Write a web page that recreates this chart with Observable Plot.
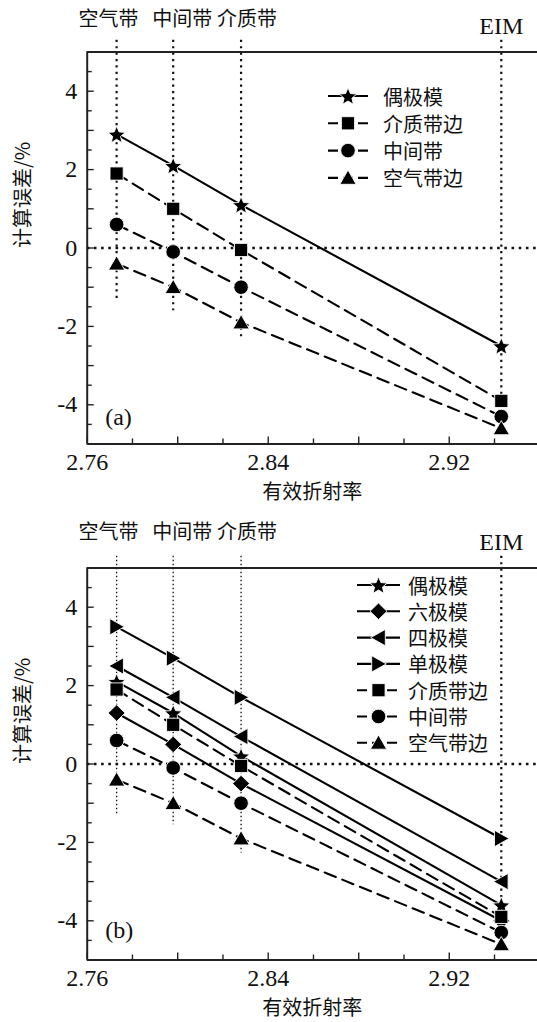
<!DOCTYPE html>
<html><head><meta charset="utf-8">
<script src="https://cdn.jsdelivr.net/npm/d3@7"></script>
<script src="https://cdn.jsdelivr.net/npm/@observablehq/plot@0.6"></script>
<style>
body{margin:0;background:#fff;}
#wrap{position:relative;width:537px;height:1022px;overflow:hidden;background:#fff;}
#wrap svg{display:block;}
.legend{position:absolute;left:0;top:0;overflow:visible;}
</style></head><body><div id="wrap"></div>
<script>
// ---------- data ----------
const bands = ["空气带", "中间带", "介质带", "EIM"];
const neff = [2.773, 2.798, 2.828, 2.943];

const dipoleA    = [2.9, 2.1, 1.1, -2.5];
const dielEdge   = [1.9, 1.0, -0.05, -3.9];
const midBand    = [0.6, -0.1, -1.0, -4.3];
const airEdge    = [-0.4, -1.0, -1.9, -4.6];

const dipoleB    = [2.1, 1.3, 0.2, -3.6];
const hexapole   = [1.3, 0.5, -0.5, -4.0];
const quadrupole = [2.5, 1.7, 0.7, -3.0];
const monopole   = [3.5, 2.7, 1.7, -1.9];

const guideTop = 5.3;
const guideBottomA = [-1.3, -1.6, -2.3, -3.85];
const guideBottomB = [-1.3, -1.55, -2.27, -3.6];

const xDomain = [2.76, 2.959];
const yDomain = [-5, 5];
const xTickLabels = [2.76, 2.84, 2.92];
const xMajorTicks = [2.76, 2.80, 2.84, 2.88, 2.92];
const xMinorTicks = [2.78, 2.82, 2.86, 2.90, 2.94];
const yTickLabels = [-4, -2, 0, 2, 4];
const yMajorTicks = [-4, -3, -2, -1, 0, 1, 2, 3, 4];
const yMinorTicks = [-4.5, -3.5, -2.5, -1.5, -0.5, 0.5, 1.5, 2.5, 3.5, 4.5];

const xLabel = "有效折射率";
const yLabel = "计算误差/%";

// ---------- symbols (styles) ----------
function poly(pts) {
  return {draw(c) { c.moveTo(pts[0][0], pts[0][1]); for (let i = 1; i < pts.length; i++) c.lineTo(pts[i][0], pts[i][1]); c.closePath(); }};
}
const starPts = d3.range(10).map(i => { const a = -Math.PI / 2 + i * Math.PI / 5, r = i % 2 ? 4.1 : 9.2; return [r * Math.cos(a), r * Math.sin(a) + 0.9]; });
const SYM = {
  star: poly(starPts),
  square: poly([[-6.6, -6.6], [6.6, -6.6], [6.6, 6.6], [-6.6, 6.6]]),
  circle: {draw(c) { c.moveTo(7.3, 0); c.arc(0, 0, 7.3, 0, 2 * Math.PI); }},
  triUp: poly([[0, -7.8], [8.2, 6.4], [-8.2, 6.4]]),
  triLeft: poly([[-7.8, 0], [6.8, -8.2], [6.8, 8.2]]),
  triRight: poly([[7.8, 0], [-6.8, -8.2], [-6.8, 8.2]]),
  diamond: poly([[0, -8.3], [8.5, 0], [0, 8.3], [-8.5, 0]])
};

const serif = "'Liberation Serif', 'Times New Roman', serif";
const cjk = "'Noto Sans CJK SC', sans-serif";

function panel(cfg) {
  const W = 537, ML = 86.7, MR = 0, PH = 392;
  const MB = cfg.height - cfg.marginTop - PH;
  const PW = W - ML - MR;
  const guides = bands.map((b, i) => ({band: b, x: neff[i], y1: guideTop, y2: cfg.guideBottom[i]}));
  const rowsOf = s => s.values.map((v, i) => ({name: s.name, x: neff[i], y: v}));
  const marks = [];
  marks.push(Plot.ruleY([0], {stroke: "#111", strokeWidth: 2.4, strokeDasharray: "2.6,4.6"}));
  marks.push(Plot.ruleX(guides.slice(0, 3), {x: "x", y1: "y1", y2: "y2", stroke: "#111",
    strokeWidth: cfg.thinGuides ? 1.3 : 2.2, strokeDasharray: cfg.thinGuides ? "1.4,2.6" : "2.2,4.2"}));
  marks.push(Plot.ruleX(guides.slice(3), {x: "x", y1: "y1", y2: "y2", stroke: "#111", strokeWidth: 2.2, strokeDasharray: "2.2,4.2"}));
  for (const s of cfg.series) {
    marks.push(Plot.line(rowsOf(s), {x: "x", y: "y", stroke: "#000", strokeWidth: 2.1, strokeDasharray: s.dashed ? "12,7" : null}));
  }
  for (const s of cfg.series) {
    marks.push(Plot.dot(rowsOf(s), {x: "x", y: "y", symbol: s.symbol, r: 6, fill: "#000", stroke: "#fff", strokeWidth: 0.9}));
  }
  // frame (top, bottom, left)
  marks.push(Plot.ruleY([yDomain[0], yDomain[1]], {stroke: "#222", strokeWidth: 2}));
  marks.push(Plot.ruleX([xDomain[0]], {stroke: "#222", strokeWidth: 2}));
  // inward ticks
  marks.push(Plot.tickX(xMajorTicks, {x: d => d, insetTop: PH - 7, stroke: "#222", strokeWidth: 1.4}));
  marks.push(Plot.tickX(xMinorTicks, {x: d => d, insetTop: PH - 5, stroke: "#222", strokeWidth: 1.4}));
  marks.push(Plot.tickY(yMajorTicks, {y: d => d, insetRight: PW - 7, stroke: "#222", strokeWidth: 1.4}));
  marks.push(Plot.tickY(yMinorTicks, {y: d => d, insetRight: PW - 5, stroke: "#222", strokeWidth: 1.4}));
  // tick labels (serif)
  marks.push(Plot.text(xTickLabels, {x: d => d, text: d => d.toFixed(2), frameAnchor: "bottom", lineAnchor: "middle", dy: 18, fontSize: 24, fontFamily: serif, fill: "#111"}));
  marks.push(Plot.text(yTickLabels, {y: d => d, text: d => String(d), frameAnchor: "left", lineAnchor: "middle", textAnchor: "end", dx: -10, fontSize: 24, fontFamily: serif, fill: "#111"}));
  // axis titles
  marks.push(Plot.text([xLabel], {text: d => d, frameAnchor: "bottom", lineAnchor: "middle", dy: 49, fontSize: 20, fontFamily: cjk, fill: "#111"}));
  marks.push(Plot.text([yLabel], {text: d => d, frameAnchor: "left", lineAnchor: "middle", rotate: -90, dx: -64, fontSize: 20, fontFamily: cjk, fill: "#111"}));
  // band labels on top
  const bandDx = [-8, 9, 6, 0];
  bands.forEach((b, i) => {
    const isEIM = i === 3;
    marks.push(Plot.text([guides[i]], {x: "x", text: "band", frameAnchor: "top", lineAnchor: "middle", dx: bandDx[i],
      dy: isEIM ? cfg.eimDy : cfg.bandDy, fontSize: isEIM ? 24 : 20, fontFamily: isEIM ? serif : cjk, fill: "#111"}));
  });
  marks.push(Plot.text([cfg.tag], {text: d => d, frameAnchor: "bottom-left", lineAnchor: "middle", dx: 18, dy: cfg.tagDy, textAnchor: "start", fontSize: 24, fontFamily: serif, fill: "#111"}));

  return Plot.plot({
    width: W, height: cfg.height,
    marginLeft: ML, marginRight: MR, marginTop: cfg.marginTop, marginBottom: MB,
    x: {domain: xDomain, axis: null},
    y: {domain: yDomain, axis: null},
    style: {background: "#fff", overflow: "visible", fontFamily: serif},
    marks
  });
}

function legend(items, box) {
  const svg = d3.create("svg").attr("class", "legend").attr("width", 537).attr("height", 1022);
  items.forEach((it, i) => {
    const y = box.y0 + i * box.step;
    const g = svg.append("g");
    g.append("line").attr("x1", box.x1).attr("x2", box.x2).attr("y1", y).attr("y2", y)
      .attr("stroke", "#000").attr("stroke-width", 2.1)
      .attr("stroke-dasharray", it.dashed ? "10,5" : null);
    const p = d3.path(); it.symbol.draw(p);
    g.append("path").attr("d", p.toString()).attr("transform", `translate(${box.xs},${y})`)
      .attr("fill", "#000").attr("stroke", "#fff").attr("stroke-width", 0.9);
    g.append("text").attr("x", box.xt).attr("y", y).attr("dominant-baseline", "central")
      .attr("font-family", cjk).attr("font-size", 20).attr("fill", "#111").text(it.name);
  });
  return svg.node();
}

const seriesA = [
  {name: "偶极模", values: dipoleA, symbol: SYM.star, dashed: false},
  {name: "介质带边", values: dielEdge, symbol: SYM.square, dashed: true},
  {name: "中间带", values: midBand, symbol: SYM.circle, dashed: true},
  {name: "空气带边", values: airEdge, symbol: SYM.triUp, dashed: true}
];
const seriesB = [
  {name: "偶极模", values: dipoleB, symbol: SYM.star, dashed: false},
  {name: "六极模", values: hexapole, symbol: SYM.diamond, dashed: false},
  {name: "四极模", values: quadrupole, symbol: SYM.triLeft, dashed: false},
  {name: "单极模", values: monopole, symbol: SYM.triRight, dashed: false},
  {name: "介质带边", values: dielEdge, symbol: SYM.square, dashed: true},
  {name: "中间带", values: midBand, symbol: SYM.circle, dashed: true},
  {name: "空气带边", values: airEdge, symbol: SYM.triUp, dashed: true}
];

const wrap = document.getElementById("wrap");
wrap.appendChild(panel({height: 510, marginTop: 51.5, series: seriesA, guideBottom: guideBottomA,
  thinGuides: false, bandDy: -32, eimDy: -26, tag: "(a)", tagDy: -27}));
wrap.appendChild(panel({height: 512, marginTop: 57.5, series: seriesB, guideBottom: guideBottomB,
  thinGuides: true, bandDy: -35, eimDy: -26, tag: "(b)", tagDy: -30}));

wrap.appendChild(legend(seriesA, {x1: 328, x2: 368, xs: 348, xt: 383, y0: 96, step: 27.3}));
wrap.appendChild(legend(seriesB, {x1: 357, x2: 400, xs: 378.5, xt: 408, y0: 585, step: 26.3}));
</script></body></html>
